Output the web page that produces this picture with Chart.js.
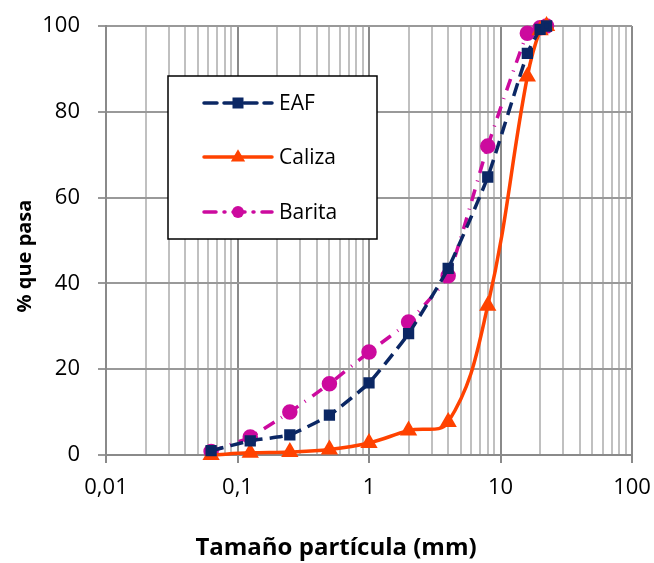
<!DOCTYPE html>
<html>
<head>
<meta charset="utf-8">
<script src="https://cdn.jsdelivr.net/npm/chart.js@4"></script>
<style>
html,body{margin:0;padding:0;background:#fff;}
#wrap{width:654px;height:563px;position:relative;}
</style>
</head>
<body>
<div id="wrap"><canvas id="c" width="654" height="563"></canvas></div>
<script>
const sizes = [0.063, 0.125, 0.25, 0.5, 1, 2, 4, 8, 16, 20, 22.4];
const eaf    = [1.0, 3.3, 4.7, 9.3, 16.8, 28.3, 43.5, 64.8, 93.6, 99.2, 100];
const caliza = [0.0, 0.5, 0.7, 1.3, 2.8, 5.7, 7.7, 34.8, 88.2, 99.0, 100];
const barita = [0.8, 4.2, 10.0, 16.6, 24.0, 31.0, 41.8, 72.0, 98.3, 99.6, 100];
const seriesNames = ['EAF', 'Caliza', 'Barita'];
const xTickLabels = ['0,01', '0,1', '1', '10', '100'];
const yTicks = [0, 20, 40, 60, 80, 100];
const xTitle = 'Tamaño partícula (mm)';
const yTitle = '% que pasa';

const FONT = '"Open Sans", sans-serif';
const toXY = arr => sizes.map((s, i) => ({x: s, y: arr[i]}));

const legendPlugin = {
  id: 'boxLegend',
  afterDraw(chart) {
    const ctx = chart.ctx;
    const bx = 168, by = 76, bw = 209, bh = 163;
    ctx.save();
    ctx.fillStyle = '#fff';
    ctx.fillRect(bx, by, bw, bh);
    ctx.strokeStyle = '#000';
    ctx.lineWidth = 1.5;
    ctx.strokeRect(bx, by, bw, bh);
    const rows = [103, 157, 212];
    chart.data.datasets.forEach((ds, i) => {
      const y = rows[i];
      ctx.strokeStyle = ds.borderColor;
      ctx.lineWidth = ds.borderWidth;
      ctx.setLineDash(ds.borderDash || []);
      ctx.lineCap = 'round';
      ctx.beginPath();
      ctx.moveTo(204, y);
      ctx.lineTo(272, y);
      ctx.stroke();
      ctx.setLineDash([]);
      ctx.fillStyle = ds.pointBackgroundColor;
      const r = ds.pointRadius;
      const cx = 238;
      ctx.beginPath();
      if (ds.pointStyle === 'rect') {
        ctx.fillRect(cx - r, y - r, 2 * r, 2 * r);
      } else if (ds.pointStyle === 'triangle') {
        ctx.moveTo(cx, y - r * 1.2);
        ctx.lineTo(cx + r * 1.1, y + r * 0.7);
        ctx.lineTo(cx - r * 1.1, y + r * 0.7);
        ctx.closePath();
        ctx.fill();
      } else {
        ctx.arc(cx, y, r, 0, Math.PI * 2);
        ctx.fill();
      }
      ctx.fillStyle = '#000';
      ctx.font = '21px ' + FONT;
      ctx.textBaseline = 'middle';
      ctx.textAlign = 'left';
      ctx.fillText(ds.label, 279, y + 1);
    });
    // axis titles
    ctx.fillStyle = '#000';
    ctx.textAlign = 'center';
    ctx.textBaseline = 'middle';
    ctx.font = 'bold 24px ' + FONT;
    ctx.fillText(xTitle, 336, 548);
    ctx.save();
    ctx.translate(25, 256);
    ctx.rotate(-Math.PI / 2);
    ctx.font = 'bold 20px ' + FONT;
    ctx.fillText(yTitle, 0, 0);
    ctx.restore();
    ctx.restore();
  }
};

const majorVals = [0.01, 0.1, 1, 10, 100];
const isMajor = v => majorVals.some(m => Math.abs(v - m) / m < 1e-6);

new Chart(document.getElementById('c'), {
  type: 'line',
  data: {
    datasets: [
      {
        label: seriesNames[0], data: toXY(eaf),
        borderColor: '#0b2764', backgroundColor: '#0b2764',
        pointBackgroundColor: '#0b2764', pointBorderColor: '#0b2764',
        borderWidth: 3.5, borderDash: [13, 7], pointStyle: 'rect', pointRadius: 5.5,
        tension: 0.15, clip: false
      },
      {
        label: seriesNames[1], data: toXY(caliza),
        borderColor: '#ff4200', backgroundColor: '#ff4200',
        pointBackgroundColor: '#ff4200', pointBorderColor: '#ff4200',
        borderWidth: 3.5, pointStyle: 'triangle', pointRadius: 6.5,
        tension: 0.4, clip: false
      },
      {
        label: seriesNames[2], data: toXY(barita),
        borderColor: '#cc0a9e', backgroundColor: '#cc0a9e',
        pointBackgroundColor: '#cc0a9e', pointBorderColor: '#cc0a9e',
        borderWidth: 3.5, borderDash: [12, 8, 1, 8], pointStyle: 'circle', pointRadius: 6,
        tension: 0.15, clip: false
      }
    ]
  },
  options: {
    responsive: false,
    animation: false,
    events: [],
    layout: {padding: {top: 26, right: 22, left: 0, bottom: 0}},
    plugins: {legend: {display: false}, tooltip: {enabled: false}},
    scales: {
      x: {
        type: 'logarithmic', min: 0.01, max: 100,
        afterFit(s) { s.height = 108; s.paddingLeft = 0; s.paddingRight = 0; },
        afterBuildTicks(s) {
          const t = [];
          for (let e = -2; e <= 1; e++) {
            for (let m = 1; m <= 9; m++) t.push({value: m * Math.pow(10, e)});
          }
          t.push({value: 100});
          s.ticks = t;
        },
        ticks: {
          autoSkip: false, maxRotation: 0, padding: 12,
          color: '#000', font: {family: FONT, size: 22},
          callback(v) {
            const i = majorVals.findIndex(m => Math.abs(v - m) / m < 1e-6);
            return i >= 0 ? xTickLabels[i] : '';
          }
        },
        grid: {
          color: c => isMajor(c.tick.value) ? '#8a8a8a' : '#c0c0c0',
          tickColor: c => isMajor(c.tick.value) ? '#8a8a8a' : 'rgba(0,0,0,0)',
          lineWidth: 2,
          tickLength: 8
        },
        border: {color: '#8a8a8a', width: 2},
        title: {display: false}
      },
      y: {
        min: 0, max: 100,
        afterFit(s) { s.width = 106; s.paddingTop = 0; s.paddingBottom = 0; },
        afterBuildTicks(s) { s.ticks = yTicks.map(v => ({value: v})); },
        ticks: {padding: 18, color: '#000', font: {family: FONT, size: 22}},
        grid: {color: '#999', lineWidth: 2, tickLength: 8},
        border: {color: '#8a8a8a', width: 2},
        title: {display: false}
      }
    }
  },
  plugins: [legendPlugin]
});
</script>
</body>
</html>
